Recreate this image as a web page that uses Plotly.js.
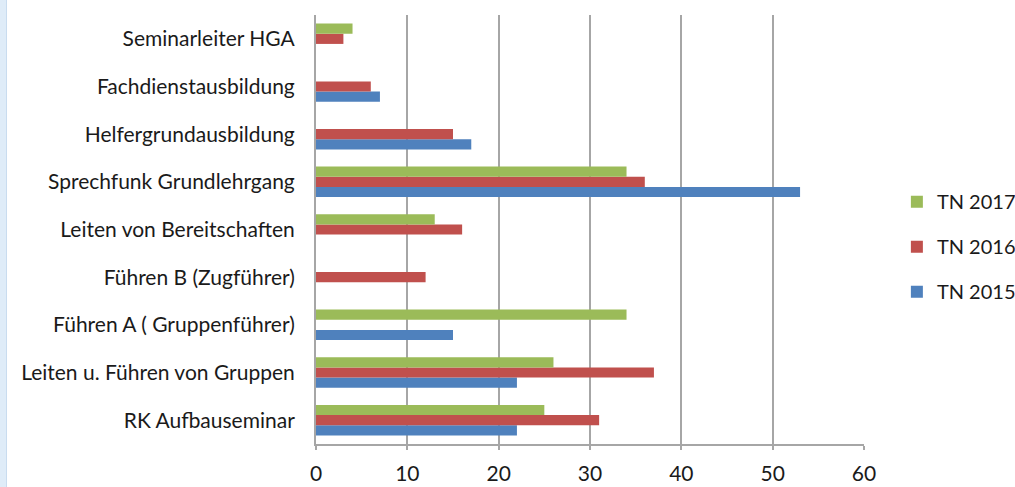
<!DOCTYPE html>
<html>
<head>
<meta charset="utf-8">
<script src="https://cdn.plot.ly/plotly-3.0.1.min.js"></script>
<style>
  html, body { margin: 0; padding: 0; background: #ffffff; }
  #chart { position: absolute; left: 0; top: 0; width: 1015px; height: 487px; }
  #strip { position: absolute; left: 0; top: 0; width: 6px; height: 487px; background: #dfecf8; border-right: 1px solid #c9dcef; }
</style>
</head>
<body>
<div id="chart"></div>
<div id="strip"></div>
<script>
const categories = [
  "RK Aufbauseminar",
  "Leiten u. Führen von Gruppen",
  "Führen A ( Gruppenführer)",
  "Führen B (Zugführer)",
  "Leiten von Bereitschaften",
  "Sprechfunk Grundlehrgang",
  "Helfergrundausbildung",
  "Fachdienstausbildung",
  "Seminarleiter HGA"
];
const tn2015 = [22, 22, 15, 0, 0, 53, 17, 7, 0];
const tn2016 = [31, 37, 0, 12, 16, 36, 15, 6, 3];
const tn2017 = [25, 26, 34, 0, 13, 34, 0, 0, 4];
const seriesNames = ["TN 2015", "TN 2016", "TN 2017"];
const xTicks = [0, 10, 20, 30, 40, 50, 60];

const colors = ["#4f81bd", "#c0504d", "#9bbb59"];
const values = [tn2015, tn2016, tn2017];

const traces = values.map((v, i) => ({
  type: "bar",
  orientation: "h",
  name: seriesNames[i],
  legendgroup: "g" + i,
  legendrank: 3 - i,
  x: v,
  y: categories,
  marker: { color: colors[i], line: { width: 0 } },
  hoverinfo: "x+name"
}));

const font = "Lato, Open Sans, Noto Sans, sans-serif";

const layout = {
  width: 1015,
  height: 487,
  margin: { l: 316, r: 151, t: 15, b: 43, autoexpand: false },
  paper_bgcolor: "#ffffff",
  plot_bgcolor: "#ffffff",
  barmode: "group",
  bargap: 0.36,
  bargroupgap: 0,
  font: { family: font, size: 21, color: "#1a1a1a" },
  xaxis: {
    range: [0, 60],
    tickvals: xTicks,
    ticktext: xTicks.map(String),
    showgrid: true,
    gridcolor: "#a6a6a6",
    gridwidth: 2,
    zeroline: false,
    showline: true,
    linecolor: "#a6a6a6",
    linewidth: 2,
    ticks: "outside",
    ticklen: 4,
    tickwidth: 2,
    tickcolor: "#a6a6a6",
    ticklabelstandoff: 6,
    tickfont: { family: font, size: 21, color: "#1a1a1a" },
    fixedrange: true
  },
  yaxis: {
    categoryorder: "array",
    categoryarray: categories,
    showgrid: false,
    zeroline: false,
    showline: true,
    linecolor: "#a6a6a6",
    linewidth: 2,
    ticks: "",
    ticklabelstandoff: 15,
    tickfont: { family: font, size: 21, color: "#1a1a1a" },
    fixedrange: true
  },
  showlegend: true,
  legend: {
    x: 1.06,
    xanchor: "left",
    y: 0.46,
    yanchor: "middle",
    traceorder: "grouped",
    tracegroupgap: 16,
    font: { family: font, size: 20, color: "#1a1a1a" },
    bgcolor: "rgba(0,0,0,0)"
  }
};

Plotly.newPlot("chart", traces, layout, { displayModeBar: false, staticPlot: true });
</script>
</body>
</html>
